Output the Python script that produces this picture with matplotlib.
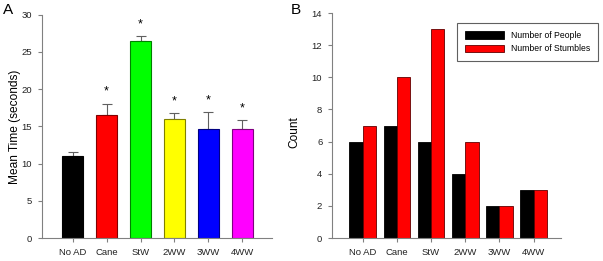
import matplotlib
matplotlib.use("Agg")
from matplotlib import pyplot as plt
import numpy as np

plt.rcParams['font.family'] = ['Liberation Sans', 'DejaVu Sans']

categories = ["No AD", "Cane", "StW", "2WW", "3WW", "4WW"]
mean_time = [11.0, 16.5, 26.5, 16.0, 14.6, 14.7]
mean_time_err = [0.5, 1.55, 0.6, 0.75, 2.3, 1.1]
significant = [False, True, True, True, True, True]
bar_colors = ["#000000", "#ff0000", "#00ff00", "#ffff00", "#0000ff", "#ff00ff"]
edge_colors = ["#000000", "#800000", "#008000", "#808000", "#000080", "#800080"]

num_people = [6, 7, 6, 4, 2, 3]
num_stumbles = [7, 10, 13, 6, 2, 3]

axis_gray = "#808080"
tick_fs = 6.8

fig = plt.figure(figsize=(6.03, 2.61), dpi=100)
ax1 = fig.add_axes([42 / 603, 23 / 261, 230 / 603, 223.3 / 261])
ax2 = fig.add_axes([332 / 603, 23 / 261, 229 / 603, 225 / 261])


def style_axis(ax):
    for s in ["top", "right"]:
        ax.spines[s].set_visible(False)
    for s in ["left", "bottom"]:
        ax.spines[s].set_color(axis_gray)
        ax.spines[s].set_linewidth(0.8)
    ax.tick_params(direction="out", length=3, width=0.8, color=axis_gray,
                   labelsize=tick_fs, labelcolor="#222222", pad=4)


# panel A
x = np.arange(len(categories))
ax1.bar(x, mean_time, width=0.62, color=bar_colors, edgecolor=edge_colors,
        linewidth=0.8, zorder=2)
ax1.errorbar(x, mean_time, yerr=[np.zeros(len(x)), mean_time_err], fmt="none",
             ecolor="#606060", elinewidth=0.8, capsize=3.5, capthick=0.8, zorder=1)
for xi, m, e, sig in zip(x, mean_time, mean_time_err, significant):
    if sig:
        ax1.annotate("*", (xi, m + e), xytext=(0, 4.5), textcoords="offset points",
                     ha="center", va="bottom", fontsize=9)
ax1.set_xlim(-0.9, 5.87)
ax1.set_ylim(0, 30)
ax1.set_yticks(range(0, 31, 5))
ax1.set_xticks(x)
ax1.set_xticklabels(categories)
ax1.set_ylabel("Mean Time (seconds)", fontsize=8.6)
ax1.yaxis.set_label_coords(-0.09, 0.5)
style_axis(ax1)

# panel B
w = 0.39
ax2.bar(x - w / 2, num_people, width=w, color="black", edgecolor="black",
        linewidth=0.6, label="Number of People")
ax2.bar(x + w / 2, num_stumbles, width=w, color="#ff0000", edgecolor="#600000",
        linewidth=0.6, label="Number of Stumbles")
ax2.set_xlim(-0.9, 5.8)
ax2.set_ylim(0, 14)
ax2.set_yticks(range(0, 15, 2))
ax2.set_xticks(x)
ax2.set_xticklabels(categories)
ax2.set_ylabel("Count", fontsize=8.6)
ax2.yaxis.set_label_coords(-0.14, 0.47)
style_axis(ax2)
leg = ax2.legend(loc="upper right", bbox_to_anchor=(598 / 603, 238 / 261),
                 bbox_transform=fig.transFigure, fontsize=6.2, fancybox=False,
                 framealpha=1, edgecolor="#606060", handlelength=4.6,
                 handleheight=1.0, borderpad=0.9, labelspacing=0.55,
                 handletextpad=0.8, borderaxespad=0)
leg.get_frame().set_linewidth(0.8)

fig.text(3 / 603, 1 - 3 / 261, "A", fontsize=11, va="top", ha="left")
fig.text(291 / 603, 1 - 3 / 261, "B", fontsize=11, va="top", ha="left")

fig.savefig("out.png", dpi=100)
